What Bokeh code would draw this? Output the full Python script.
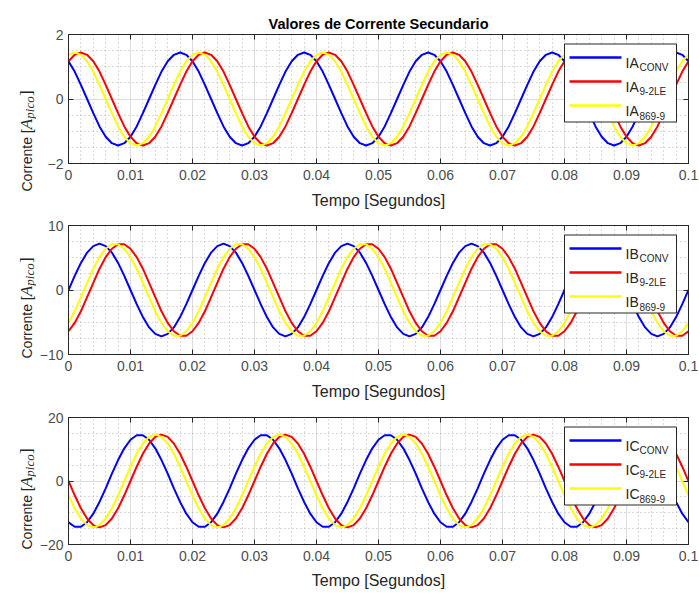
import numpy as np
from math import pi
from bokeh.plotting import figure
from bokeh.layouts import column, row
from bokeh.models import Range1d, FixedTicker, LinearAxis, Grid, CustomJSTickFormatter
from bokeh.core.properties import value
from bokeh.embed import file_html
from bokeh.resources import INLINE

# ---------------- data ----------------
TIME_S = [
    0.000, 0.001, 0.002, 0.003, 0.004, 0.005, 0.006, 0.007, 0.008, 0.009,
    0.010, 0.011, 0.012, 0.013, 0.014, 0.015, 0.016, 0.017, 0.018, 0.019,
    0.020, 0.021, 0.022, 0.023, 0.024, 0.025, 0.026, 0.027, 0.028, 0.029,
    0.030, 0.031, 0.032, 0.033, 0.034, 0.035, 0.036, 0.037, 0.038, 0.039,
    0.040, 0.041, 0.042, 0.043, 0.044, 0.045, 0.046, 0.047, 0.048, 0.049,
    0.050, 0.051, 0.052, 0.053, 0.054, 0.055, 0.056, 0.057, 0.058, 0.059,
    0.060, 0.061, 0.062, 0.063, 0.064, 0.065, 0.066, 0.067, 0.068, 0.069,
    0.070, 0.071, 0.072, 0.073, 0.074, 0.075, 0.076, 0.077, 0.078, 0.079,
    0.080, 0.081, 0.082, 0.083, 0.084, 0.085, 0.086, 0.087, 0.088, 0.089,
    0.090, 0.091, 0.092, 0.093, 0.094, 0.095, 0.096, 0.097, 0.098, 0.099,
    0.100,
]

IA_CONV = [
    1.17, 0.85, 0.44, 0.00, -0.44, -0.85, -1.17, -1.37, -1.44, -1.37, -1.17, -0.85, -0.44, 0.00, 0.44, 0.85, 1.17, 1.37, 1.44, 1.37,
    1.17, 0.85, 0.44, 0.00, -0.44, -0.85, -1.17, -1.37, -1.44, -1.37, -1.17, -0.85, -0.44, 0.00, 0.44, 0.85, 1.17, 1.37, 1.44, 1.37,
    1.17, 0.85, 0.44, 0.00, -0.44, -0.85, -1.17, -1.37, -1.44, -1.37, -1.17, -0.85, -0.44, 0.00, 0.44, 0.85, 1.17, 1.37, 1.44, 1.37,
    1.17, 0.85, 0.44, 0.00, -0.44, -0.85, -1.17, -1.37, -1.44, -1.37, -1.17, -0.85, -0.44, 0.00, 0.44, 0.85, 1.17, 1.37, 1.44, 1.37,
    1.17, 0.85, 0.44, 0.00, -0.44, -0.85, -1.17, -1.37, -1.44, -1.37, -1.17, -0.85, -0.44, 0.00, 0.44, 0.85, 1.17, 1.37, 1.44, 1.37,
    1.17,
]
IA_92LE = [
    1.17, 1.37, 1.44, 1.37, 1.17, 0.85, 0.44, 0.00, -0.44, -0.85, -1.17, -1.37, -1.44, -1.37, -1.17, -0.85, -0.44, 0.00, 0.44, 0.85,
    1.17, 1.37, 1.44, 1.37, 1.17, 0.85, 0.44, 0.00, -0.44, -0.85, -1.17, -1.37, -1.44, -1.37, -1.17, -0.85, -0.44, 0.00, 0.44, 0.85,
    1.17, 1.37, 1.44, 1.37, 1.17, 0.85, 0.44, 0.00, -0.44, -0.85, -1.17, -1.37, -1.44, -1.37, -1.17, -0.85, -0.44, 0.00, 0.44, 0.85,
    1.17, 1.37, 1.44, 1.37, 1.17, 0.85, 0.44, 0.00, -0.44, -0.85, -1.17, -1.37, -1.44, -1.37, -1.17, -0.85, -0.44, 0.00, 0.44, 0.85,
    1.17, 1.37, 1.44, 1.37, 1.17, 0.85, 0.44, 0.00, -0.44, -0.85, -1.17, -1.37, -1.44, -1.37, -1.17, -0.85, -0.44, 0.00, 0.44, 0.85,
    1.17,
]
IA_8699 = [
    1.37, 1.44, 1.37, 1.17, 0.85, 0.44, 0.00, -0.44, -0.85, -1.17, -1.37, -1.44, -1.37, -1.17, -0.85, -0.44, 0.00, 0.44, 0.85, 1.17,
    1.37, 1.44, 1.37, 1.17, 0.85, 0.44, 0.00, -0.44, -0.85, -1.17, -1.37, -1.44, -1.37, -1.17, -0.85, -0.44, 0.00, 0.44, 0.85, 1.17,
    1.37, 1.44, 1.37, 1.17, 0.85, 0.44, 0.00, -0.44, -0.85, -1.17, -1.37, -1.44, -1.37, -1.17, -0.85, -0.44, 0.00, 0.44, 0.85, 1.17,
    1.37, 1.44, 1.37, 1.17, 0.85, 0.44, 0.00, -0.44, -0.85, -1.17, -1.37, -1.44, -1.37, -1.17, -0.85, -0.44, 0.00, 0.44, 0.85, 1.17,
    1.37, 1.44, 1.37, 1.17, 0.85, 0.44, 0.00, -0.44, -0.85, -1.17, -1.37, -1.44, -1.37, -1.17, -0.85, -0.44, 0.00, 0.44, 0.85, 1.17,
    1.37,
]

IB_CONV = [
    0.0, 2.2, 4.2, 5.8, 6.8, 7.2, 6.8, 5.8, 4.2, 2.2, 0.0, -2.2, -4.2, -5.8, -6.8, -7.2, -6.8, -5.8, -4.2, -2.2,
    0.0, 2.2, 4.2, 5.8, 6.8, 7.2, 6.8, 5.8, 4.2, 2.2, 0.0, -2.2, -4.2, -5.8, -6.8, -7.2, -6.8, -5.8, -4.2, -2.2,
    0.0, 2.2, 4.2, 5.8, 6.8, 7.2, 6.8, 5.8, 4.2, 2.2, 0.0, -2.2, -4.2, -5.8, -6.8, -7.2, -6.8, -5.8, -4.2, -2.2,
    0.0, 2.2, 4.2, 5.8, 6.8, 7.2, 6.8, 5.8, 4.2, 2.2, 0.0, -2.2, -4.2, -5.8, -6.8, -7.2, -6.8, -5.8, -4.2, -2.2,
    0.0, 2.2, 4.2, 5.8, 6.8, 7.2, 6.8, 5.8, 4.2, 2.2, 0.0, -2.2, -4.2, -5.8, -6.8, -7.2, -6.8, -5.8, -4.2, -2.2,
    0.0,
]
IB_92LE = [
    -6.4, -5.1, -3.3, -1.1, 1.1, 3.3, 5.1, 6.4, 7.1, 7.1, 6.4, 5.1, 3.3, 1.1, -1.1, -3.3, -5.1, -6.4, -7.1, -7.1,
    -6.4, -5.1, -3.3, -1.1, 1.1, 3.3, 5.1, 6.4, 7.1, 7.1, 6.4, 5.1, 3.3, 1.1, -1.1, -3.3, -5.1, -6.4, -7.1, -7.1,
    -6.4, -5.1, -3.3, -1.1, 1.1, 3.3, 5.1, 6.4, 7.1, 7.1, 6.4, 5.1, 3.3, 1.1, -1.1, -3.3, -5.1, -6.4, -7.1, -7.1,
    -6.4, -5.1, -3.3, -1.1, 1.1, 3.3, 5.1, 6.4, 7.1, 7.1, 6.4, 5.1, 3.3, 1.1, -1.1, -3.3, -5.1, -6.4, -7.1, -7.1,
    -6.4, -5.1, -3.3, -1.1, 1.1, 3.3, 5.1, 6.4, 7.1, 7.1, 6.4, 5.1, 3.3, 1.1, -1.1, -3.3, -5.1, -6.4, -7.1, -7.1,
    -6.4,
]
IB_8699 = [
    -5.1, -3.3, -1.1, 1.1, 3.3, 5.1, 6.4, 7.1, 7.1, 6.4, 5.1, 3.3, 1.1, -1.1, -3.3, -5.1, -6.4, -7.1, -7.1, -6.4,
    -5.1, -3.3, -1.1, 1.1, 3.3, 5.1, 6.4, 7.1, 7.1, 6.4, 5.1, 3.3, 1.1, -1.1, -3.3, -5.1, -6.4, -7.1, -7.1, -6.4,
    -5.1, -3.3, -1.1, 1.1, 3.3, 5.1, 6.4, 7.1, 7.1, 6.4, 5.1, 3.3, 1.1, -1.1, -3.3, -5.1, -6.4, -7.1, -7.1, -6.4,
    -5.1, -3.3, -1.1, 1.1, 3.3, 5.1, 6.4, 7.1, 7.1, 6.4, 5.1, 3.3, 1.1, -1.1, -3.3, -5.1, -6.4, -7.1, -7.1, -6.4,
    -5.1, -3.3, -1.1, 1.1, 3.3, 5.1, 6.4, 7.1, 7.1, 6.4, 5.1, 3.3, 1.1, -1.1, -3.3, -5.1, -6.4, -7.1, -7.1, -6.4,
    -5.1,
]

IC_CONV = [
    -13.0, -14.4, -14.4, -13.0, -10.3, -6.6, -2.3, 2.3, 6.6, 10.3, 13.0, 14.4, 14.4, 13.0, 10.3, 6.6, 2.3, -2.3, -6.6, -10.3,
    -13.0, -14.4, -14.4, -13.0, -10.3, -6.6, -2.3, 2.3, 6.6, 10.3, 13.0, 14.4, 14.4, 13.0, 10.3, 6.6, 2.3, -2.3, -6.6, -10.3,
    -13.0, -14.4, -14.4, -13.0, -10.3, -6.6, -2.3, 2.3, 6.6, 10.3, 13.0, 14.4, 14.4, 13.0, 10.3, 6.6, 2.3, -2.3, -6.6, -10.3,
    -13.0, -14.4, -14.4, -13.0, -10.3, -6.6, -2.3, 2.3, 6.6, 10.3, 13.0, 14.4, 14.4, 13.0, 10.3, 6.6, 2.3, -2.3, -6.6, -10.3,
    -13.0, -14.4, -14.4, -13.0, -10.3, -6.6, -2.3, 2.3, 6.6, 10.3, 13.0, 14.4, 14.4, 13.0, 10.3, 6.6, 2.3, -2.3, -6.6, -10.3,
    -13.0,
]
IC_92LE = [
    0.0, -4.5, -8.6, -11.8, -13.9, -14.6, -13.9, -11.8, -8.6, -4.5, 0.0, 4.5, 8.6, 11.8, 13.9, 14.6, 13.9, 11.8, 8.6, 4.5,
    0.0, -4.5, -8.6, -11.8, -13.9, -14.6, -13.9, -11.8, -8.6, -4.5, 0.0, 4.5, 8.6, 11.8, 13.9, 14.6, 13.9, 11.8, 8.6, 4.5,
    0.0, -4.5, -8.6, -11.8, -13.9, -14.6, -13.9, -11.8, -8.6, -4.5, 0.0, 4.5, 8.6, 11.8, 13.9, 14.6, 13.9, 11.8, 8.6, 4.5,
    0.0, -4.5, -8.6, -11.8, -13.9, -14.6, -13.9, -11.8, -8.6, -4.5, 0.0, 4.5, 8.6, 11.8, 13.9, 14.6, 13.9, 11.8, 8.6, 4.5,
    0.0, -4.5, -8.6, -11.8, -13.9, -14.6, -13.9, -11.8, -8.6, -4.5, 0.0, 4.5, 8.6, 11.8, 13.9, 14.6, 13.9, 11.8, 8.6, 4.5,
    0.0,
]
IC_8699 = [
    -4.5, -8.6, -11.8, -13.9, -14.6, -13.9, -11.8, -8.6, -4.5, 0.0, 4.5, 8.6, 11.8, 13.9, 14.6, 13.9, 11.8, 8.6, 4.5, 0.0,
    -4.5, -8.6, -11.8, -13.9, -14.6, -13.9, -11.8, -8.6, -4.5, 0.0, 4.5, 8.6, 11.8, 13.9, 14.6, 13.9, 11.8, 8.6, 4.5, 0.0,
    -4.5, -8.6, -11.8, -13.9, -14.6, -13.9, -11.8, -8.6, -4.5, 0.0, 4.5, 8.6, 11.8, 13.9, 14.6, 13.9, 11.8, 8.6, 4.5, 0.0,
    -4.5, -8.6, -11.8, -13.9, -14.6, -13.9, -11.8, -8.6, -4.5, 0.0, 4.5, 8.6, 11.8, 13.9, 14.6, 13.9, 11.8, 8.6, 4.5, 0.0,
    -4.5, -8.6, -11.8, -13.9, -14.6, -13.9, -11.8, -8.6, -4.5, 0.0, 4.5, 8.6, 11.8, 13.9, 14.6, 13.9, 11.8, 8.6, 4.5, 0.0,
    -4.5,
]

X_TICKS = [0, 0.01, 0.02, 0.03, 0.04, 0.05, 0.06, 0.07, 0.08, 0.09, 0.1]
X_TICK_LABELS = ["0", "0.01", "0.02", "0.03", "0.04", "0.05", "0.06", "0.07", "0.08", "0.09", "0.1"]
Y_TICKS_A = [-2, 0, 2]
Y_TICKS_B = [-10, 0, 10]
Y_TICKS_C = [-20, 0, 20]
SUFFIXES = ["CONV", "9-2LE", "869-9"]
COLORS = ["#0000ff", "#ff0000", "#ffff00"]
TITLE = "Valores de Corrente Secundario"
X_LABEL = "Tempo [Segundos]"
Y_LABEL_PARTS = ["Corrente [", "A", "pico", "]"]

# ---------------- styling / layout ----------------
FONT = "Liberation Sans"
SERIF = "Liberation Serif"
INK = "#262626"
TICK_GRAY = "#4d4d4d"
GRID = "#dcdcdc"
MINOR = "#b4b4b4"
LAB_W = 36            # width of the strip holding the y-axis label
LEFT, RIGHT = 32, 11  # borders of the plot figures
FW = 620              # frame width
W = LEFT + FW + RIGHT
YLAB_BASE = 26        # baseline of the rotated y label inside its strip


def label_strip(height):
    f = figure(frame_width=LAB_W, frame_height=height, title=None,
               x_range=Range1d(0, LAB_W), y_range=Range1d(0, height),
               x_axis_type=None, y_axis_type=None, output_backend="svg", toolbar_location=None,
               min_border=0, min_border_left=0, min_border_right=0, min_border_top=0, min_border_bottom=0,
               outline_line_color=None, background_fill_color="white", border_fill_color="white")
    f.grid.visible = False
    return f


def make_panel(prefix, series, yticks, top, fh, bottom, xlab_standoff, title=None):
    x0, x1 = X_TICKS[0], X_TICKS[-1]
    y0, y1 = yticks[0], yticks[-1]
    H = top + fh + bottom

    def dx(px):
        return x0 + px / FW * (x1 - x0)

    def dy(py):
        return y1 - py / fh * (y1 - y0)

    p = figure(width=W, height=H,
               x_range=Range1d(x0, x1), y_range=Range1d(y0, y1),
               x_axis_type=None, y_axis_type=None,
               output_backend="svg", toolbar_location=None,
               min_border_left=LEFT, min_border_right=RIGHT,
               min_border_top=top, min_border_bottom=bottom,
               outline_line_color=INK, outline_line_width=1,
               background_fill_color="white", border_fill_color="white")
    if title:
        p.title.text = title
        p.title.align = "center"
        p.title.text_font = FONT
        p.title.text_font_style = "bold"
        p.title.text_font_size = "14.5px"
        p.title.text_color = "black"
        p.title.standoff = 5

    xstep = (X_TICKS[1] - X_TICKS[0]) / 5
    xminor = [float(v) for v in np.round(np.arange(x0, x1 + 1e-9, xstep), 5)
              if min(abs(v - t) for t in X_TICKS) > 1e-7]
    ystep = (yticks[1] - yticks[0]) / 4
    yminor = [float(v) for v in np.arange(y0, y1 + 1e-9, ystep)
              if min(abs(v - t) for t in yticks) > 1e-7]
    xt = FixedTicker(ticks=X_TICKS, minor_ticks=xminor)
    yt = FixedTicker(ticks=yticks, minor_ticks=yminor)

    p.add_layout(Grid(dimension=0, ticker=xt, grid_line_color=GRID, grid_line_width=1,
                      minor_grid_line_color=MINOR, minor_grid_line_dash="1 3"))
    p.add_layout(Grid(dimension=1, ticker=yt, grid_line_color=GRID, grid_line_width=1,
                      minor_grid_line_color=MINOR, minor_grid_line_dash="1 3"))

    def add_axis(loc, ticker, labelled):
        ax = LinearAxis(ticker=ticker)
        ax.axis_line_color = INK
        ax.major_tick_line_color = INK
        ax.major_tick_in = 5
        ax.major_tick_out = 0
        ax.minor_tick_in = 0
        ax.minor_tick_out = 0
        if labelled:
            ax.major_label_text_font = FONT
            ax.major_label_text_font_size = "14px"
            ax.major_label_text_color = TICK_GRAY
        else:
            ax.formatter = CustomJSTickFormatter(code="return ''")
            ax.major_label_text_font_size = "0px"
            ax.major_label_standoff = 0
        p.add_layout(ax, loc)
        return ax

    bx = add_axis("below", xt, True)
    bx.major_label_overrides = dict(zip(X_TICKS, X_TICK_LABELS))
    bx.major_label_standoff = 6
    bx.axis_label = X_LABEL
    bx.axis_label_text_font = FONT
    bx.axis_label_text_font_style = "normal"
    bx.axis_label_text_font_size = "16px"
    bx.axis_label_text_color = INK
    bx.axis_label_standoff = xlab_standoff
    lx = add_axis("left", yt, True)
    lx.major_label_standoff = 5
    add_axis("above", xt, False)
    add_axis("right", yt, False)

    for ys, c in zip(series, COLORS):
        p.line(TIME_S, ys, line_color=c, line_width=2)

    # legend box (drawn inside the frame)
    rows = [23, 47, 71]
    p.quad(left=[dx(496)], right=[dx(608)], top=[dy(9.5)], bottom=[dy(87.5)],
           fill_color="white", line_color=INK, line_width=1)
    p.segment(x0=[dx(501)] * 3, x1=[dx(553)] * 3,
              y0=[dy(r) for r in rows], y1=[dy(r) for r in rows],
              line_color=COLORS, line_width=2.5)
    p.text(x=[dx(557)] * 3, y=[dy(r + 5) for r in rows], text=[prefix] * 3,
           text_font=value(FONT), text_font_size="14px", text_color=INK,
           text_baseline="alphabetic", text_align="left")
    p.text(x=[dx(571)] * 3, y=[dy(r + 10) for r in rows], text=SUFFIXES,
           text_font=value(FONT), text_font_size="10px", text_color=INK,
           text_baseline="alphabetic", text_align="left")

    # y-axis label strip: Corrente [A_pico]
    lab = label_strip(H)
    cur = H - (top + fh - 6)
    styles = [(FONT, "normal", "14px", 0, 62.2),
              (SERIF, "italic", "17px", 0, 10.6),
              (SERIF, "italic", "13px", 2.5, 22.8),
              (SERIF, "normal", "17px", 0, 5.7)]
    for txt, (fnt, style, size, drop, wdt) in zip(Y_LABEL_PARTS, styles):
        lab.text(x=[YLAB_BASE + drop], y=[cur], text=[txt], angle=pi / 2,
                 text_font=value(fnt), text_font_style=style, text_font_size=size,
                 text_color=INK, text_align="left", text_baseline="alphabetic")
        cur += wdt
    return row(lab, p, spacing=0)


r1 = make_panel("IA", [IA_CONV, IA_92LE, IA_8699], Y_TICKS_A, 34, 129, 52, 9, TITLE)
r2 = make_panel("IB", [IB_CONV, IB_92LE, IB_8699], Y_TICKS_B, 10, 129, 52, 9)
r3 = make_panel("IC", [IC_CONV, IC_92LE, IC_8699], Y_TICKS_C, 11, 127, 50, 8)

p = column(r1, r2, r3, spacing=0)
open("out.html", "w").write(file_html(p, INLINE))
